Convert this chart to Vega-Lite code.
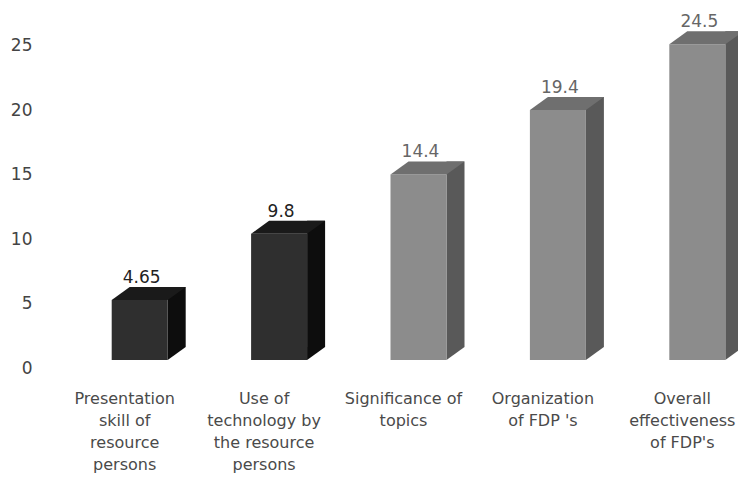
{
  "$schema": "https://vega.github.io/schema/vega-lite/v6.json",
  "autosize": "none",
  "width": 683,
  "height": 335,
  "padding": {"left": 55, "top": 33, "right": 0, "bottom": 129},
  "background": "white",
  "config": {"view": {"stroke": null}, "font": "DejaVu Sans"},
  "data": {"values": [
    {"item": "Presentation|skill of|resource|persons", "value": 4.65},
    {"item": "Use of|technology by|the resource|persons", "value": 9.8},
    {"item": "Significance of|topics", "value": 14.4},
    {"item": "Organization|of FDP 's", "value": 19.4},
    {"item": "Overall|effectiveness|of FDP's", "value": 24.5}
  ]},
  "encoding": {
    "x": {"field": "item", "type": "nominal", "sort": null,
      "scale": {"paddingInner": 0, "paddingOuter": 0, "range": [0, 697]},
      "axis": {"title": null, "labelAngle": 0, "domain": false, "ticks": false,
        "labelExpr": "split(datum.label, '|')", "labelPadding": 22, "labelBaseline": "top",
        "labelFontSize": 16, "labelLineHeight": 22, "labelColor": "#4a4a4a", "labelFont": "DejaVu Sans", "labelLimit": 200}}
  },
  "layer": [
    {
      "mark": {"type": "bar", "width": 18, "xOffset": 52, "yOffset": -21},
      "encoding": {
        "y": {"field": "value", "type": "quantitative", "scale": {"domain": [0, 25], "range": [335, 0]},
          "axis": {"title": null, "values": [0, 5, 10, 15, 20, 25], "domain": false, "ticks": false, "grid": false,
            "labelPadding": 23, "labelFontSize": 17, "labelColor": "#444", "labelFont": "DejaVu Sans"}},
        "color": {"condition": {"test": "datum.value < 12", "value": "#0d0d0d"}, "value": "#595959"}
      }
    },
    {
      "mark": {"type": "point", "filled": true, "opacity": 1, "size": 3600, "xOffset": 15, "yOffset": -8,
        "shape": "M 0.933 -0.433 L 1.533 -0.433 L 0.933 0 Z"},
      "encoding": {
        "y": {"datum": 0, "type": "quantitative"},
        "color": {"condition": {"test": "datum.value < 12", "value": "#0d0d0d"}, "value": "#595959"}
      }
    },
    {
      "mark": {"type": "bar", "width": 56, "xOffset": 15, "yOffset": -8},
      "encoding": {
        "y": {"field": "value", "type": "quantitative"},
        "color": {"condition": {"test": "datum.value < 12", "value": "#2f2f2f"}, "value": "#8c8c8c"}
      }
    },
    {
      "mark": {"type": "point", "filled": true, "opacity": 1, "size": 3600, "xOffset": 15, "yOffset": -8,
        "shape": "M -0.933 0 L 0.933 0 L 1.533 -0.433 L -0.333 -0.433 Z"},
      "encoding": {
        "y": {"field": "value", "type": "quantitative"},
        "color": {"condition": {"test": "datum.value < 12", "value": "#1a1a1a"}, "value": "#6f6f6f"}
      }
    },
    {
      "mark": {"type": "text", "xOffset": 17, "dy": -21, "baseline": "bottom", "fontSize": 17, "font": "DejaVu Sans"},
      "encoding": {
        "y": {"field": "value", "type": "quantitative"},
        "text": {"field": "value", "type": "quantitative"},
        "color": {"condition": {"test": "datum.value < 12", "value": "#222"}, "value": "#666"}
      }
    }
  ]
}
